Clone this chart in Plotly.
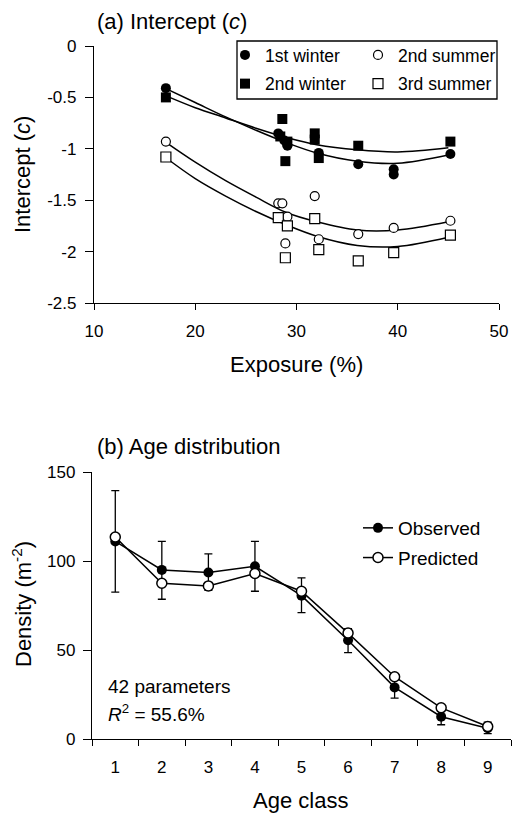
import plotly.graph_objects as go

# ---------------- Panel (a) data ----------------
w1_x = [17.1, 28.2, 28.8, 29.1, 32.2, 36.1, 39.6, 39.6, 45.2]
w1_y = [-0.41, -0.85, -0.92, -0.97, -1.04, -1.15, -1.20, -1.25, -1.05]

w2_x = [17.1, 28.6, 28.4, 29.1, 28.9, 31.8, 31.8, 32.2, 36.1, 45.2]
w2_y = [-0.50, -0.71, -0.88, -0.93, -1.12, -0.85, -0.91, -1.09, -0.97, -0.93]

s2_x = [17.1, 28.2, 28.6, 29.1, 28.9, 31.8, 32.2, 36.1, 39.6, 45.2]
s2_y = [-0.93, -1.53, -1.53, -1.66, -1.92, -1.46, -1.88, -1.83, -1.77, -1.70]

s3_x = [17.1, 28.2, 29.1, 28.9, 31.8, 32.2, 36.1, 39.6, 45.2]
s3_y = [-1.08, -1.67, -1.75, -2.06, -1.68, -1.98, -2.09, -2.01, -1.84]

fit_x = [17, 20, 23, 26, 29, 32, 36, 40, 45]
fit_w1 = [-0.41, -0.55, -0.69, -0.82, -0.94, -1.04, -1.12, -1.14, -1.06]
fit_w2 = [-0.48, -0.60, -0.70, -0.80, -0.89, -0.96, -1.01, -1.03, -0.99]
fit_s2 = [-0.93, -1.13, -1.31, -1.47, -1.62, -1.71, -1.79, -1.79, -1.71]
fit_s3 = [-1.08, -1.29, -1.46, -1.61, -1.74, -1.85, -1.94, -1.95, -1.86]

a_xticks = [10, 20, 30, 40, 50]
a_yticks = [0, -0.5, -1, -1.5, -2, -2.5]
a_yticklabels = ["0", "-0.5", "-1", "-1.5", "-2", "-2.5"]

# ---------------- Panel (b) data ----------------
age = [1, 2, 3, 4, 5, 6, 7, 8, 9]
observed = [111, 95, 93.5, 97, 80.5, 55.5, 29, 12.5, 6]
obs_err_up = [28.5, 16, 10.5, 14, 10, 6.5, 6, 4.5, 3.5]
obs_err_dn = [28.5, 16.5, 10, 14, 9.5, 7, 6, 4.5, 3]
predicted = [113.5, 87.5, 86, 93, 83, 59.5, 35, 17.5, 7]
b_yticks = [0, 50, 100, 150]
b_minor = [0.5, 1.5, 2.5, 3.5, 4.5, 5.5, 6.5, 7.5, 8.5, 9.5]

FONT = "Liberation Sans, Arial, Helvetica, sans-serif"
W, H = 512, 814


def fx(px):
    return px / W


def fy(py):
    return 1 - py / H


fig = go.Figure()

# fitted curves
for fy_vals in [fit_w1, fit_w2, fit_s2, fit_s3]:
    fig.add_trace(go.Scatter(x=fit_x, y=fy_vals, mode="lines", line=dict(color="black", width=1.5, shape="spline"),
                             showlegend=False, hoverinfo="skip", xaxis="x", yaxis="y"))

fig.add_trace(go.Scatter(x=w1_x, y=w1_y, mode="markers", name="1st winter",
                         marker=dict(symbol="circle", size=10, color="black"),
                         legend="legend", legendgroup="g1", xaxis="x", yaxis="y"))
fig.add_trace(go.Scatter(x=w2_x, y=w2_y, mode="markers", name="2nd winter",
                         marker=dict(symbol="square", size=10, color="black"),
                         legend="legend", legendgroup="g2", xaxis="x", yaxis="y"))
fig.add_trace(go.Scatter(x=s2_x, y=s2_y, mode="markers", name="2nd summer",
                         marker=dict(symbol="circle", size=9, color="white", line=dict(color="black", width=1.2)),
                         legend="legend2", legendgroup="g3", xaxis="x", yaxis="y"))
fig.add_trace(go.Scatter(x=s3_x, y=s3_y, mode="markers", name="3rd summer",
                         marker=dict(symbol="square", size=10, color="white", line=dict(color="black", width=1.2)),
                         legend="legend2", legendgroup="g4", xaxis="x", yaxis="y"))

# panel b
fig.add_trace(go.Scatter(x=age, y=observed, mode="lines+markers", name="Observed",
                         line=dict(color="black", width=1.5),
                         marker=dict(symbol="circle", size=10, color="black"),
                         error_y=dict(type="data", array=obs_err_up, arrayminus=obs_err_dn, color="black",
                                      thickness=1.3, width=4),
                         legend="legend3", legendgroup="g5", xaxis="x2", yaxis="y2"))
fig.add_trace(go.Scatter(x=age, y=predicted, mode="lines+markers", name="Predicted",
                         line=dict(color="black", width=1.5),
                         marker=dict(symbol="circle", size=10, color="white", line=dict(color="black", width=1.5)),
                         legend="legend3", legendgroup="g6", xaxis="x2", yaxis="y2"))

axis_common = dict(showgrid=False, zeroline=False, showline=True, linecolor="black", linewidth=1.3,
                   tickcolor="black", tickwidth=1.3, automargin=False, ticklabeloverflow="allow",
                   tickfont=dict(family=FONT, size=17, color="black"))

fig.update_layout(
    template="none",
    width=W, height=H,
    margin=dict(l=0, r=0, t=0, b=0, autoexpand=False),
    paper_bgcolor="white", plot_bgcolor="white",
    font=dict(family=FONT, color="black"),
    xaxis=dict(domain=[fx(94), fx(499)], range=[10, 50], tickvals=a_xticks, ticks="outside", ticklen=6,
               ticklabelstandoff=6, anchor="y", **axis_common),
    yaxis=dict(domain=[fy(303), fy(46)], range=[-2.5, 0], tickvals=a_yticks, ticktext=a_yticklabels,
               ticks="outside", ticklen=8, ticklabelstandoff=5, anchor="x", **axis_common),
    xaxis2=dict(domain=[fx(92), fx(511)], range=[0.5, 9.5], tickvals=age, ticks="", anchor="y2",
                ticklabelstandoff=12,
                minor=dict(tickvals=b_minor, ticks="outside", ticklen=6, tickcolor="black", tickwidth=1.3),
                **axis_common),
    yaxis2=dict(domain=[fy(739), fy(472)], range=[0, 150], tickvals=b_yticks, ticks="outside", ticklen=8,
                ticklabelstandoff=4, anchor="x2", **axis_common),
    legend=dict(x=fx(225), y=fy(37), xanchor="left", yanchor="top", bgcolor="rgba(0,0,0,0)",
                font=dict(family=FONT, size=17.5, color="black"), tracegroupgap=3, itemwidth=30),
    legend2=dict(x=fx(358), y=fy(37), xanchor="left", yanchor="top", bgcolor="rgba(0,0,0,0)",
                 font=dict(family=FONT, size=17.5, color="black"), tracegroupgap=3, itemwidth=30),
    legend3=dict(x=fx(358), y=fy(509), xanchor="left", yanchor="top", bgcolor="rgba(0,0,0,0)",
                 font=dict(family=FONT, size=19, color="black"), tracegroupgap=2, itemwidth=30),
    shapes=[dict(type="rect", xref="paper", yref="paper", x0=fx(237), x1=fx(497), y0=fy(99), y1=fy(41),
                 line=dict(color="black", width=1.3), fillcolor="rgba(0,0,0,0)")],
)

ann = [
    dict(text="(a) Intercept (<i>c</i>)", x=fx(95), y=fy(21), xanchor="left", size=22),
    dict(text="Exposure (%)", x=fx(296), y=fy(364), xanchor="center", size=22),
    dict(text="Intercept (<i>c</i>)", x=fx(23), y=fy(175), xanchor="center", size=22, angle=-90),
    dict(text="(b) Age distribution", x=fx(95), y=fy(447), xanchor="left", size=22),
    dict(text="Density (m<sup>-2</sup>)", x=fx(22), y=fy(604), xanchor="center", size=22, angle=-90),
    dict(text="Age class", x=fx(300), y=fy(800), xanchor="center", size=22),
    dict(text="42 parameters", x=fx(106), y=fy(686), xanchor="left", size=19),
    dict(text="<i>R</i><sup>2</sup> = 55.6%", x=fx(106), y=fy(713), xanchor="left", size=19),
]
for a in ann:
    fig.add_annotation(text=a["text"], x=a["x"], y=a["y"], xref="paper", yref="paper",
                       xanchor=a["xanchor"], yanchor="middle", showarrow=False,
                       textangle=a.get("angle", 0),
                       font=dict(family=FONT, size=a["size"], color="black"))

# remove the default page margin so the 512x814 figure fills the window exactly
page_fix = "document.body.style.margin='0px';document.body.style.overflow='hidden';"
fig.write_html("out.html", post_script=page_fix, config={"displayModeBar": False})
